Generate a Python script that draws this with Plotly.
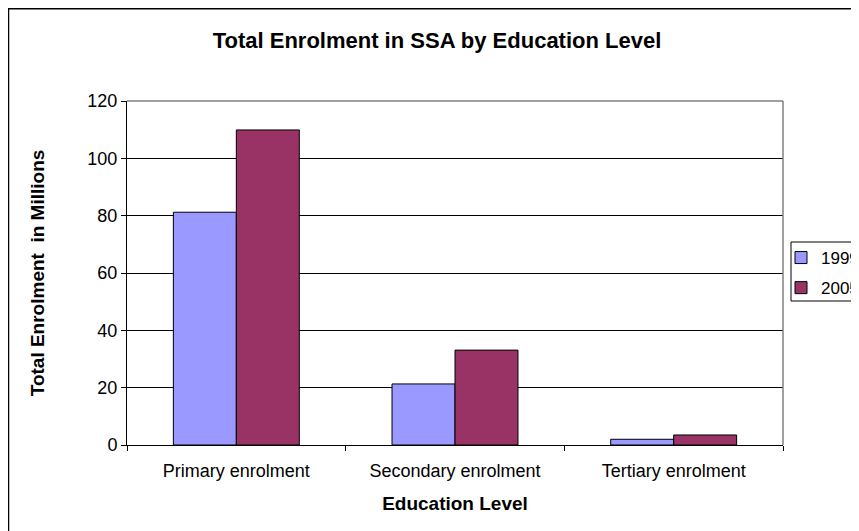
import plotly.graph_objects as go

categories = ["Primary enrolment", "Secondary enrolment", "Tertiary enrolment"]
series_names = ["1999", "2005"]
values_1999 = [81.2, 21.3, 2.0]
values_2005 = [109.9, 33.1, 3.5]
y_ticks = [0, 20, 40, 60, 80, 100, 120]

OFF = 8  # page body margin
W, H = 859 - OFF, 531 - OFF
L, R, T, B = 127 - OFF, 783 - OFF, 101 - OFF, 445 - OFF
pw, ph = R - L, B - T


def px(x):
    """page x -> paper x"""
    return (x - OFF - L) / pw


def py(y):
    """page y -> paper y"""
    return (B - (y - OFF)) / ph


font = "Liberation Sans, Arial, sans-serif"

fig = go.Figure()
fig.add_trace(go.Bar(name=series_names[0], x=categories, y=values_1999, legendgroup="a",
                     marker=dict(color="#9999FF", line=dict(color="black", width=1))))
fig.add_trace(go.Bar(name=series_names[1], x=categories, y=values_2005, legendgroup="b",
                     marker=dict(color="#993366", line=dict(color="black", width=1))))

fig.update_layout(
    width=W, height=H,
    margin=dict(l=L, r=W - R, t=T, b=H - B, pad=0, autoexpand=False),
    paper_bgcolor="white", plot_bgcolor="white",
    barmode="group", bargap=0.424, bargroupgap=0,
    font=dict(family=font, size=18, color="black"),
    title=dict(text="<b>Total Enrolment in SSA by Education Level</b>",
               x=px(437), xref="paper", xanchor="center",
               y=1 - (40 - OFF) / H, yref="container", yanchor="middle",
               font=dict(size=22)),
    showlegend=True,
    legend=dict(x=px(781), y=py(240), xanchor="left", yanchor="top",
                borderwidth=0, bgcolor="rgba(0,0,0,0)",
                font=dict(size=17), itemwidth=30, tracegroupgap=5),
    xaxis=dict(showline=True, linecolor="black", linewidth=1,
               ticks="outside", tickcolor="black", ticklen=5,
               tickson="boundaries", showgrid=False, ticklabelstandoff=9,
               tickfont=dict(size=18),
               title=dict(text="<b>Education Level</b>", font=dict(size=19), standoff=17)),
    yaxis=dict(range=[0, 120], tickvals=y_ticks, showline=True, linecolor="black", linewidth=1,
               ticks="outside", tickcolor="black", ticklen=5,
               showgrid=True, gridcolor="black", gridwidth=1, zeroline=False,
               tickfont=dict(size=18),
               title=dict(text="<b>Total Enrolment  in Millions</b>", font=dict(size=19), standoff=37)),
)

# plot area gray border (top and right)
fig.add_shape(type="line", xref="paper", yref="paper", x0=0, x1=1, y0=1, y1=1,
              line=dict(color="#808080", width=1.5))
fig.add_shape(type="line", xref="paper", yref="paper", x0=1, x1=1, y0=0, y1=1,
              line=dict(color="#808080", width=1.5))
# legend box
fig.add_shape(type="rect", xref="paper", yref="paper",
              x0=px(791), x1=px(900), y0=py(301), y1=py(242),
              line=dict(color="black", width=1), fillcolor="rgba(0,0,0,0)")
# outer chart border
fig.add_shape(type="rect", xref="paper", yref="paper",
              x0=px(8.5), x1=px(900), y0=py(560), y1=py(8.8),
              line=dict(color="black", width=1.5), fillcolor="rgba(0,0,0,0)", layer="below")

fig.write_html("out.html")
